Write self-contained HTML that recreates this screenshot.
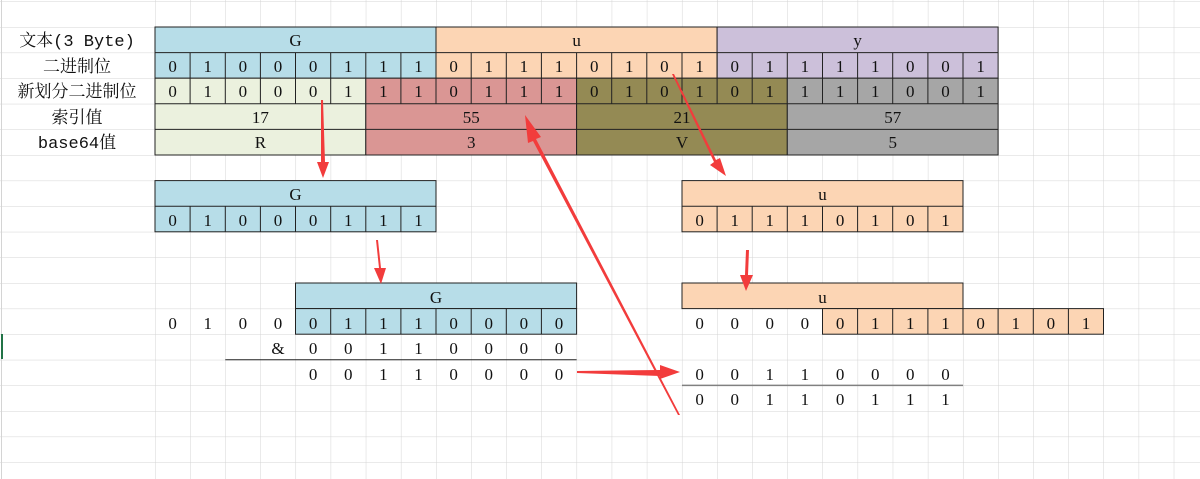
<!DOCTYPE html>
<html><head><meta charset="utf-8"><style>
html,body{margin:0;padding:0;background:#fff;}
svg{display:block;}
text{font-family:"Liberation Serif","Noto Serif CJK SC",serif;font-size:17px;fill:#111;text-anchor:middle;}
.l{font-family:"Liberation Mono","Noto Serif CJK SC",serif;font-size:17px;}
</style></head><body>
<svg width="1200" height="479" viewBox="0 0 1200 479" xmlns="http://www.w3.org/2000/svg">
<defs>
<pattern id="g" x="155" y="1.4" width="35.13" height="25.6" patternUnits="userSpaceOnUse">
<path d="M0 0V25.6M0 0H35.13" stroke="#d4d4d4" stroke-width="1" fill="none"/>
</pattern>
<pattern id="h" x="0" y="1.4" width="155" height="25.6" patternUnits="userSpaceOnUse">
<path d="M0 0H155" stroke="#d4d4d4" stroke-width="1" fill="none"/>
</pattern>
</defs>
<rect x="155" y="0" width="1045" height="479" fill="url(#g)"/>
<rect x="0" y="0" width="155" height="479" fill="url(#h)"/>
<line x1="1.5" y1="0" x2="1.5" y2="479" stroke="#d4d4d4"/>
<rect x="1" y="334" width="2" height="25" fill="#217346"/>

<text class="l" x="77" y="46">文本(3 Byte)</text>
<text class="l" x="77" y="72">二进制位</text>
<text class="l" x="77" y="97">新划分二进制位</text>
<text class="l" x="77" y="123">索引值</text>
<text class="l" x="77" y="148">base64值</text>

<g stroke="#222" stroke-width="1">
<rect x="155" y="27" width="281" height="51.2" fill="#b7dde8"/>
<rect x="436" y="27" width="281.1" height="51.2" fill="#fcd5b4"/>
<rect x="717.1" y="27" width="281" height="51.2" fill="#ccc0da"/>
<rect x="155" y="78.2" width="210.8" height="76.8" fill="#ebf1de"/>
<rect x="365.8" y="78.2" width="210.8" height="76.8" fill="#da9694"/>
<rect x="576.6" y="78.2" width="210.7" height="76.8" fill="#948a54"/>
<rect x="787.3" y="78.2" width="210.8" height="76.8" fill="#a6a6a6"/>
<path d="M155 52.6H998.1M155 103.8H998.1M155 129.4H998.1" fill="none"/>
<path d="M190.1 52.6V103.8M225.3 52.6V103.8M260.4 52.6V103.8M295.5 52.6V103.8M330.7 52.6V103.8M365.8 52.6V78.2M400.9 52.6V103.8M436 52.6V103.8M471.2 52.6V103.8M506.3 52.6V103.8M541.4 52.6V103.8M576.6 52.6V78.2M611.7 52.6V103.8M646.8 52.6V103.8M682 52.6V103.8M717.1 52.6V103.8M752.2 52.6V103.8M787.3 52.6V78.2M822.5 52.6V103.8M857.6 52.6V103.8M892.7 52.6V103.8M927.9 52.6V103.8M963 52.6V103.8" fill="none"/>
</g>
<text x="295.5" y="46">G</text><text x="576.6" y="46">u</text><text x="857.6" y="46">y</text>
<g>
<text x="172.6" y="72">0</text><text x="207.7" y="72">1</text><text x="242.9" y="72">0</text><text x="278" y="72">0</text><text x="313.1" y="72">0</text><text x="348.3" y="72">1</text><text x="383.4" y="72">1</text><text x="418.5" y="72">1</text>
<text x="453.6" y="72">0</text><text x="488.8" y="72">1</text><text x="523.9" y="72">1</text><text x="559" y="72">1</text><text x="594.2" y="72">0</text><text x="629.3" y="72">1</text><text x="664.4" y="72">0</text><text x="699.6" y="72">1</text>
<text x="734.7" y="72">0</text><text x="769.8" y="72">1</text><text x="804.9" y="72">1</text><text x="840.1" y="72">1</text><text x="875.2" y="72">1</text><text x="910.3" y="72">0</text><text x="945.5" y="72">0</text><text x="980.6" y="72">1</text>
<text x="172.6" y="97">0</text><text x="207.7" y="97">1</text><text x="242.9" y="97">0</text><text x="278" y="97">0</text><text x="313.1" y="97">0</text><text x="348.3" y="97">1</text><text x="383.4" y="97">1</text><text x="418.5" y="97">1</text>
<text x="453.6" y="97">0</text><text x="488.8" y="97">1</text><text x="523.9" y="97">1</text><text x="559" y="97">1</text><text x="594.2" y="97">0</text><text x="629.3" y="97">1</text><text x="664.4" y="97">0</text><text x="699.6" y="97">1</text>
<text x="734.7" y="97">0</text><text x="769.8" y="97">1</text><text x="804.9" y="97">1</text><text x="840.1" y="97">1</text><text x="875.2" y="97">1</text><text x="910.3" y="97">0</text><text x="945.5" y="97">0</text><text x="980.6" y="97">1</text>
</g>
<text x="260.4" y="123">17</text><text x="471.2" y="123">55</text><text x="682" y="123">21</text><text x="892.7" y="123">57</text>
<text x="260.4" y="148">R</text><text x="471.2" y="148">3</text><text x="682" y="148">V</text><text x="892.7" y="148">5</text>

<g stroke="#222" fill="none">
<rect x="155" y="180.6" width="281" height="51.2" fill="#b7dde8"/>
<path d="M155 206.2H436M190.1 206.2V231.8M225.3 206.2V231.8M260.4 206.2V231.8M295.5 206.2V231.8M330.7 206.2V231.8M365.8 206.2V231.8M400.9 206.2V231.8"/>
<rect x="682" y="180.6" width="281" height="51.2" fill="#fcd5b4"/>
<path d="M682 206.2H963M717.1 206.2V231.8M752.2 206.2V231.8M787.3 206.2V231.8M822.5 206.2V231.8M857.6 206.2V231.8M892.7 206.2V231.8M927.9 206.2V231.8"/>
</g>
<text x="295.5" y="200">G</text>
<text x="172.6" y="226">0</text><text x="207.7" y="226">1</text><text x="242.9" y="226">0</text><text x="278" y="226">0</text><text x="313.1" y="226">0</text><text x="348.3" y="226">1</text><text x="383.4" y="226">1</text><text x="418.5" y="226">1</text>
<text x="822.5" y="200">u</text>
<text x="699.6" y="226">0</text><text x="734.7" y="226">1</text><text x="769.8" y="226">1</text><text x="804.9" y="226">1</text><text x="840.1" y="226">0</text><text x="875.2" y="226">1</text><text x="910.3" y="226">0</text><text x="945.5" y="226">1</text>

<g stroke="#222" fill="none">
<rect x="295.5" y="283" width="281.1" height="25.6" fill="#b7dde8"/>
<rect x="295.5" y="308.6" width="281.1" height="25.6" fill="#b7dde8"/>
<path d="M330.7 308.6V334.2M365.8 308.6V334.2M400.9 308.6V334.2M436 308.6V334.2M471.2 308.6V334.2M506.3 308.6V334.2M541.4 308.6V334.2"/>
<path d="M225.3 359.8H576.6"/>
</g>
<text x="436" y="303">G</text>
<text x="172.6" y="329">0</text><text x="207.7" y="329">1</text><text x="242.9" y="329">0</text><text x="278" y="329">0</text>
<text x="313.1" y="329">0</text><text x="348.3" y="329">1</text><text x="383.4" y="329">1</text><text x="418.5" y="329">1</text><text x="453.6" y="329">0</text><text x="488.8" y="329">0</text><text x="523.9" y="329">0</text><text x="559" y="329">0</text>
<text x="278" y="354">&amp;</text>
<text x="313.1" y="354">0</text><text x="348.3" y="354">0</text><text x="383.4" y="354">1</text><text x="418.5" y="354">1</text><text x="453.6" y="354">0</text><text x="488.8" y="354">0</text><text x="523.9" y="354">0</text><text x="559" y="354">0</text>
<text x="313.1" y="380">0</text><text x="348.3" y="380">0</text><text x="383.4" y="380">1</text><text x="418.5" y="380">1</text><text x="453.6" y="380">0</text><text x="488.8" y="380">0</text><text x="523.9" y="380">0</text><text x="559" y="380">0</text>

<g stroke="#222" fill="none">
<rect x="682" y="283" width="281" height="25.6" fill="#fcd5b4"/>
<rect x="822.5" y="308.6" width="281" height="25.6" fill="#fcd5b4"/>
<path d="M857.6 308.6V334.2M892.7 308.6V334.2M927.9 308.6V334.2M963 308.6V334.2M998.1 308.6V334.2M1033.3 308.6V334.2M1068.4 308.6V334.2"/>
</g>
<line x1="682" y1="385.4" x2="963" y2="385.4" stroke="#808080" stroke-width="1.5"/>
<text x="822.5" y="303">u</text>
<text x="699.6" y="329">0</text><text x="734.7" y="329">0</text><text x="769.8" y="329">0</text><text x="804.9" y="329">0</text>
<text x="840.1" y="329">0</text><text x="875.2" y="329">1</text><text x="910.3" y="329">1</text><text x="945.5" y="329">1</text><text x="980.6" y="329">0</text><text x="1015.7" y="329">1</text><text x="1050.9" y="329">0</text><text x="1086" y="329">1</text>
<text x="699.6" y="380">0</text><text x="734.7" y="380">0</text><text x="769.8" y="380">1</text><text x="804.9" y="380">1</text><text x="840.1" y="380">0</text><text x="875.2" y="380">0</text><text x="910.3" y="380">0</text><text x="945.5" y="380">0</text>
<text x="699.6" y="405">0</text><text x="734.7" y="405">0</text><text x="769.8" y="405">1</text><text x="804.9" y="405">1</text><text x="840.1" y="405">0</text><text x="875.2" y="405">1</text><text x="910.3" y="405">1</text><text x="945.5" y="405">1</text>

<g fill="#f23c3c" stroke="none">
<polygon points="321,100 323,100 325,162 329,162 323,178 317,162 321,162"/>
<polygon points="376,240 378,240 381,268 386,268 381,284 374,268 379,268"/>
<polygon points="672,74 674,74 716,160 720,158 726,176 710,165 714,162"/>
<polygon points="746,250 749,250 748,275 753,275 746,291 740,275 745,275"/>
<polygon points="577,373 577,371 660,370 660,365 680,372 660,379 660,376"/>
<polygon points="680,415 678,415 533,141 528,143 525,115 541,137 536,139"/>
</g>
</svg>
</body></html>
